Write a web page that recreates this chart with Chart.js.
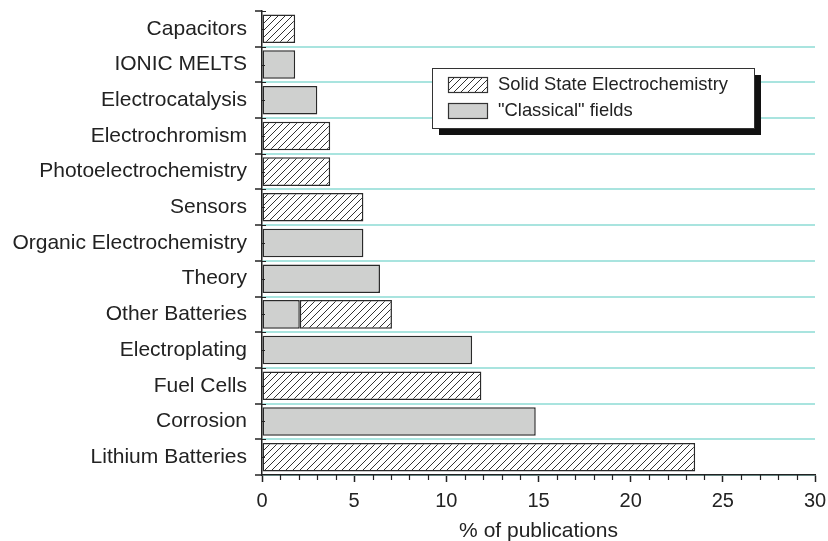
<!DOCTYPE html>
<html lang="en">
<head>
  <meta charset="UTF-8">
  <title>% of publications</title>
  <script src="https://cdn.jsdelivr.net/npm/chart.js"></script>
  <style>
    body { margin: 0; background: #fff; }
    #wrap { width: 828px; height: 541px; }
  </style>
</head>
<body>
  <div id="wrap"><canvas id="pubChart" width="828" height="541"></canvas></div>

  <script>
    // categories top -> bottom
    const categories = [
      "Capacitors", "IONIC MELTS", "Electrocatalysis", "Electrochromism",
      "Photoelectrochemistry", "Sensors", "Organic Electrochemistry", "Theory",
      "Other Batteries", "Electroplating", "Fuel Cells", "Corrosion", "Lithium Batteries"
    ];
    // "Classical" fields (grey)
    const classicalValues = [null, 1.8, 3.0, null, null, null, 5.5, 6.4, 2.05, 11.4, null, 14.85, null];
    // Solid State Electrochemistry (hatched) - stacked on top of grey for Other Batteries
    const solidStateValues = [1.8, null, null, 3.7, 3.7, 5.5, null, null, 5.0, null, 11.9, null, 23.5];
    const legendLabels = ["Solid State Electrochemistry", "\"Classical\" fields"];
    const xTicks = [0, 5, 10, 15, 20, 25, 30];
    const xTitle = "% of publications";

    const ink = "#222";
    const grey = "#cfd0cf";
    const cyan = "#a9e4df";
    const fontFam = "'Liberation Sans', Arial, sans-serif";

    // hatch pattern "/"
    function makeHatch() {
      const s = 7;
      const c = document.createElement("canvas");
      c.width = s; c.height = s;
      const g = c.getContext("2d");
      g.fillStyle = "#fff";
      g.fillRect(0, 0, s, s);
      g.strokeStyle = "#333";
      g.lineWidth = 1;
      g.beginPath();
      g.moveTo(0, s); g.lineTo(s, 0);
      g.moveTo(-1, 1); g.lineTo(1, -1);
      g.moveTo(s - 1, s + 1); g.lineTo(s + 1, s - 1);
      g.stroke();
      return g.createPattern(c, "repeat");
    }
    const ctx = document.getElementById("pubChart").getContext("2d");
    const hatch = makeHatch();

    // minor ticks on x axis, small ticks on y axis, boxed legend with shadow
    const extras = {
      id: "extras",
      afterDraw(chart) {
        const g = chart.ctx;
        const xs = chart.scales.x, ys = chart.scales.y;
        g.save();
        g.strokeStyle = ink;
        g.lineWidth = 1.2;
        g.beginPath();
        for (let v = xs.min; v <= xs.max; v++) {
          if (v % 5 === 0) continue;
          const px = Math.round(xs.getPixelForValue(v)) + 0.5;
          g.moveTo(px, xs.top); g.lineTo(px, xs.top + 5);
        }
        categories.forEach((c, i) => {
          const py = Math.round(ys.getPixelForValue(i)) + 0.5;
          g.moveTo(ys.right, py); g.lineTo(ys.right + 3, py);
          // boundary ticks cross the axis a little
          const pb = Math.round(ys.getPixelForValue(i - 0.5)) + 0.5;
          g.moveTo(ys.right, pb); g.lineTo(ys.right + 4, pb);
        });
        g.stroke();

        // legend
        const bx = 432, by = 68, bw = 322, bh = 60;
        g.fillStyle = "#111";
        g.fillRect(bx + 7, by + 7, bw, bh);
        g.fillStyle = "#fff";
        g.fillRect(bx, by, bw, bh);
        g.strokeStyle = "#333";
        g.lineWidth = 1;
        g.strokeRect(bx + 0.5, by + 0.5, bw, bh);
        const fills = [hatch, grey];
        legendLabels.forEach((lab, i) => {
          const sy = 77 + i * 26;
          g.fillStyle = fills[i];
          g.fillRect(448, sy, 39, 15);
          g.strokeStyle = "#333";
          g.lineWidth = 1.2;
          g.strokeRect(448.5, sy + 0.5, 39, 15);
          g.fillStyle = ink;
          g.font = "18.4px " + fontFam;
          g.textBaseline = "middle";
          g.textAlign = "left";
          g.fillText(lab, 498, sy + 8);
        });
        g.restore();
      }
    };

    new Chart(ctx, {
      type: "bar",
      data: {
        labels: categories,
        datasets: [
          {
            label: legendLabels[1], data: classicalValues,
            backgroundColor: grey, borderColor: "#2a2a2a", borderWidth: 1.5,
            borderSkipped: false, categoryPercentage: 1, barPercentage: 0.8
          },
          {
            label: legendLabels[0], data: solidStateValues,
            backgroundColor: hatch, borderColor: "#2a2a2a", borderWidth: 1.5,
            borderSkipped: false, categoryPercentage: 1, barPercentage: 0.8
          }
        ]
      },
      options: {
        indexAxis: "y",
        responsive: false,
        animation: false,
        layout: { padding: { top: 11, right: 13, left: 0, bottom: 0 } },
        plugins: { legend: { display: false }, tooltip: { enabled: false } },
        scales: {
          x: {
            stacked: true, min: 0, max: 30,
            afterBuildTicks: (s) => { s.ticks = xTicks.map(v => ({ value: v })); },
            afterFit: (s) => { s.height = 66; s.paddingLeft = 0; s.paddingRight = 0; },
            grid: { drawOnChartArea: false, tickLength: 7, tickColor: ink, tickWidth: 1.5 },
            border: { color: ink, width: 1.5 },
            ticks: { color: ink, font: { family: fontFam, size: 20 }, padding: 7, maxRotation: 0 },
            title: { display: true, text: xTitle, color: ink, font: { family: fontFam, size: 21, lineHeight: 1 }, padding: { top: 0, bottom: -1 } }
          },
          y: {
            stacked: true,
            afterFit: (s) => { s.width = 262; s.paddingTop = 0; s.paddingBottom = 0; },
            grid: {
              offset: true,
              color: (c) => c.index === 0 ? "rgba(0,0,0,0)" : cyan,
              lineWidth: 2,
              tickColor: ink, tickWidth: 1.5, tickLength: 7
            },
            border: { color: ink, width: 1.5 },
            ticks: { color: ink, font: { family: fontFam, size: 21, lineHeight: 1 }, padding: 8, autoSkip: false }
          }
        }
      },
      plugins: [extras]
    });
  </script>
</body>
</html>
